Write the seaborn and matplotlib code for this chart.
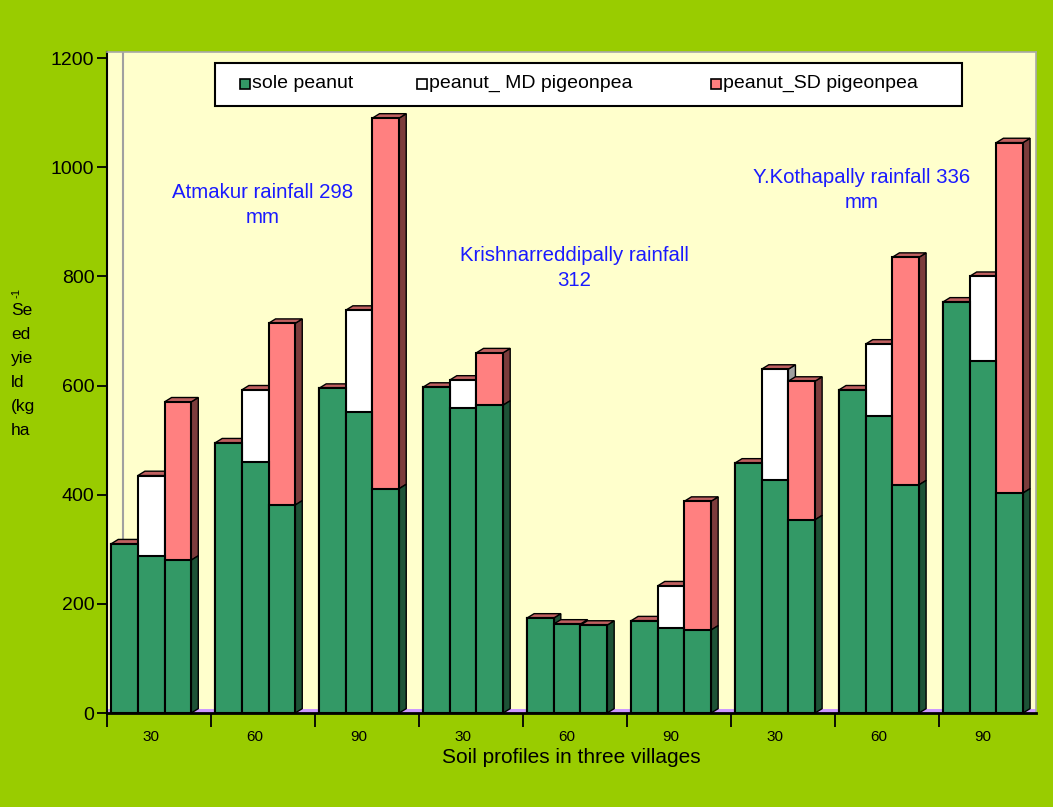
import matplotlib
matplotlib.use("Agg")
import matplotlib.pyplot as plt
from matplotlib.patches import Polygon, Rectangle
import pandas as pd
import seaborn as sns

# ---- data -------------------------------------------------------------
villages = ["Atmakur", "Krishnarreddipally", "Y.Kothapally"]
depths = ["30", "60", "90"]
series = ["sole peanut", "peanut_ MD pigeonpea", "peanut_SD pigeonpea"]

# peanut part of each bar (kg/ha)
sole_peanut = [310, 495, 595, 597, 174, 169, 458, 592, 753]
md_peanut = [288, 460, 551, 559, 163, 156, 426, 545, 645]
sd_peanut = [280, 381, 411, 564, 161, 152, 354, 418, 403]
# peanut + pigeonpea totals
md_total = [435, 592, 738, 610, 163, 233, 630, 676, 800]
sd_total = [570, 714, 1090, 660, 161, 388, 608, 835, 1045]

rain_notes = ["Atmakur rainfall 298\nmm",
              "Krishnarreddipally rainfall\n312",
              "Y.Kothapally rainfall 336\nmm"]

y_ticks = [0, 200, 400, 600, 800, 1000, 1200]

# ---- styling ------------------------------------------------------------
GREEN, WHITE, PINK = "#339966", "#FFFFFF", "#FF8080"
SIDE = {GREEN: "#1D5236", WHITE: "#A0A0A0", PINK: "#7C3C3C"}
TOP_FACE = "#C06060"
OUTER_BG = "#99CC00"
PLOT_BG = "#FFFFCC"

sns.set_theme(style="white")
plt.rcParams["font.family"] = ["Liberation Sans", "DejaVu Sans"]
plt.rcParams.update({"text.color": "black", "axes.labelcolor": "black",
                     "xtick.color": "black", "ytick.color": "black"})

groups = [f"{v} {d}" for v in villages for d in depths]
n = len(groups)
df = pd.DataFrame({
    "group": groups * 3,
    "series": [s for s in series for _ in range(n)],
    "total": sole_peanut + md_total + sd_total,
    "peanut": sole_peanut + md_peanut + sd_peanut,
})

W, H = 1053, 807
fig = plt.figure(figsize=(W / 100, H / 100), dpi=100)
fig.patch.set_facecolor(OUTER_BG)
ax = fig.add_axes([107 / W, 1 - 713 / H, (1036 - 107) / W, (713 - 52) / H])
ax.set_facecolor(PLOT_BG)

bar_w = 0.77
common = dict(data=df, x="group", hue="series", hue_order=series, order=groups,
              width=bar_w, saturation=1, edgecolor="black", linewidth=1.5,
              errorbar=None, legend=False, ax=ax)
sns.barplot(y="total", palette=[GREEN, WHITE, PINK], zorder=2, **common)
sns.barplot(y="peanut", palette=[GREEN, GREEN, GREEN], zorder=2.1, **common)

# pseudo-3D faces built from the drawn bars
dx, dy = 0.068, 8
top_cols = [GREEN, WHITE, PINK]
for k in range(3):
    tots = sorted(ax.containers[k].patches, key=lambda p: p.get_x())
    bases = sorted(ax.containers[k + 3].patches, key=lambda p: p.get_x())
    for t, b in zip(tots, bases):
        x0, w = t.get_x(), t.get_width()
        x1 = x0 + w
        h, hb = t.get_height(), b.get_height()
        if h > hb:
            ax.add_patch(Polygon([(x1, hb), (x1 + dx, hb + dy), (x1 + dx, h + dy), (x1, h)],
                                 closed=True, facecolor=SIDE[top_cols[k]],
                                 edgecolor="black", lw=1, zorder=1.2))
        ax.add_patch(Polygon([(x1, 0), (x1 + dx, dy), (x1 + dx, hb + dy), (x1, hb)],
                             closed=True, facecolor=SIDE[GREEN],
                             edgecolor="black", lw=1, zorder=1.2))
        ax.add_patch(Polygon([(x0, h), (x0 + dx, h + dy), (x1 + dx, h + dy), (x1, h)],
                             closed=True, facecolor=TOP_FACE,
                             edgecolor="black", lw=1, zorder=1.3))

# floor and back wall edge
x_left = -0.425
ax.axhspan(0, 7, color="#CC99FF", zorder=0.8, lw=0)
ax.axvline(x_left + 16 / 104, color="#A0A0A0", lw=1.5, zorder=0.6)

ax.set_xlim(x_left, 8.51)
ax.set_ylim(0, 1211)
ax.set_yticks(y_ticks)
ax.set_yticklabels([str(v) for v in y_ticks], fontsize=14)
ax.set_xticks(range(n))
ax.set_xticklabels(depths * 3, fontsize=11)
ax.set_xticks([i + x_left for i in range(n)], minor=True)
ax.tick_params(axis="x", which="major", length=0, pad=12)
ax.tick_params(axis="x", which="minor", length=10, width=1.3, direction="out",
               color="black", bottom=True)
ax.tick_params(axis="y", length=7, width=1.3, direction="out", color="black",
               left=True, pad=2)
ax.set_xlabel("Soil profiles in three villages", fontsize=15, labelpad=3)
ax.set_ylabel("")
for side in ("top", "right"):
    ax.spines[side].set_color("#A8A8A8")
    ax.spines[side].set_linewidth(1.2)
ax.spines["left"].set_color("black")
ax.spines["left"].set_linewidth(1.5)
ax.spines["bottom"].set_color("black")
ax.spines["bottom"].set_linewidth(2)


def fx(px):
    return px / W


def fy(py):
    return 1 - py / H


# legend box with three entries in one row
fig.add_artist(Rectangle((fx(215), fy(106)), fx(962) - fx(215), fy(63) - fy(106),
                         transform=fig.transFigure, facecolor="white",
                         edgecolor="black", lw=1.5, zorder=5))
entry_x = [240, 417, 711]
for px, col, lab in zip(entry_x, (GREEN, WHITE, PINK), series):
    fig.add_artist(Rectangle((fx(px), fy(89)), 10 / W, 10 / H,
                             transform=fig.transFigure, facecolor=col,
                             edgecolor="black", lw=1.2, zorder=6))
    fig.text(fx(px + 12), fy(83), lab, ha="left", va="center", fontsize=14,
             zorder=6)

# rainfall notes
note_pos = [(263, 205), (574, 268), (862, 190)]
for (px, py), txt in zip(note_pos, rain_notes):
    fig.text(fx(px), fy(py), txt, ha="center", va="center", color="#1A1AFF",
             fontsize=14.7, linespacing=1.45)

# stacked y-axis title
fig.text(fx(12), fy(293), "-1", rotation=90, fontsize=8, ha="left", va="center")
fig.text(fx(11), fy(370), "Se\ned\nyie\nld\n(kg\nha", ha="left", va="center",
         fontsize=12.5, linespacing=1.75)

fig.savefig("out.png", dpi=100, facecolor=fig.get_facecolor())
